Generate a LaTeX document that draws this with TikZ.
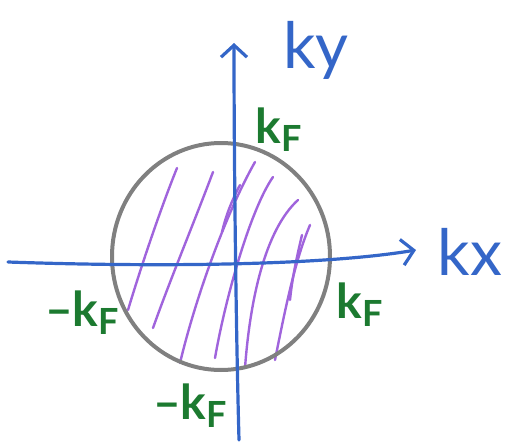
\documentclass[tikz,border=0pt]{standalone}
\usepackage{fontspec}
\setmainfont{Lato}
\usetikzlibrary{arrows.meta,shapes.geometric}
\definecolor{axisblue}{RGB}{52,102,200}
\definecolor{kgreen}{RGB}{28,122,48}
\definecolor{circgray}{RGB}{128,128,128}
\definecolor{hatch}{RGB}{160,100,220}
\tikzset{
  axis/.style={draw=axisblue, line width=3.2pt, line cap=round, -{Straight Barb[length=12pt,width=26pt,line width=3.2pt]}},
  fermi/.style={draw=circgray, line width=4pt},
  hatchline/.style={draw=hatch, line width=2.4pt, line cap=round},
  biglabel/.style={text=axisblue, font=\fontsize{64}{64}\selectfont, inner sep=0pt},
  kflabel/.style={text=kgreen, font=\bfseries\fontsize{48}{48}\selectfont, inner sep=0pt},
}
\newcommand{\kF}{k\raisebox{-8pt}{\fontsize{36}{36}\selectfont F}}
\begin{document}
\begin{tikzpicture}[x=1pt,y=-1pt]
\useasboundingbox (0,0) rectangle (506,442);
% hatching
\coordinate (h1a) at (177,168); \coordinate (h1b) at (128,310);
\coordinate (h2a) at (213,172); \coordinate (h2b) at (153,328);
\coordinate (h3a) at (255,162); \coordinate (h3b) at (180,363);
\coordinate (h4a) at (273,177); \coordinate (h4b) at (215,358);
\coordinate (h5a) at (298,200); \coordinate (h5b) at (245,368);
\coordinate (h6a) at (310,225); \coordinate (h6b) at (275,360);
\draw[hatchline] (h1a) .. controls (160,210) and (140,270) .. (h1b);
\draw[hatchline] (h2a) .. controls (195,220) and (170,280) .. (h2b);
\draw[hatchline] (h3a) .. controls (225,215) and (195,300) .. (h3b);
\draw[hatchline] (h4a) .. controls (250,210) and (225,300) .. (h4b);
\draw[hatchline] (h5a) .. controls (265,230) and (250,300) .. (h5b);
\draw[hatchline] (h6a) .. controls (295,260) and (285,310) .. (h6b);
\draw[hatchline] (240,185) .. controls (232,200) and (226,215) .. (222,232);
\draw[hatchline] (302,235) .. controls (296,260) and (292,280) .. (290,300);
% Fermi circle
\node[fermi, ellipse, minimum width=218pt, minimum height=227pt, inner sep=0pt] (circ) at (221,256.5) {};
% axes
\coordinate (xs) at (8,262);
\coordinate (xe) at (416,250);
\coordinate (ys) at (239,440);
\coordinate (ye) at (234,43);
\draw[axis] (xs) .. controls (150,267) and (320,266) .. (xe);
\draw[axis] (ys) .. controls (236,330) and (234,160) .. (ye);
% labels
\node[biglabel] (ky) at (316,50) {ky};
\node[biglabel] (kx) at (470,252) {kx};
\node[kflabel] (kft) at (279,130) {\kF};
\node[kflabel] (kfr) at (360,305) {\kF};
\node[kflabel] (kfl) at (82,313) {–\kF};
\node[kflabel] (kfb) at (190,406) {–\kF};
\end{tikzpicture}
\end{document}
